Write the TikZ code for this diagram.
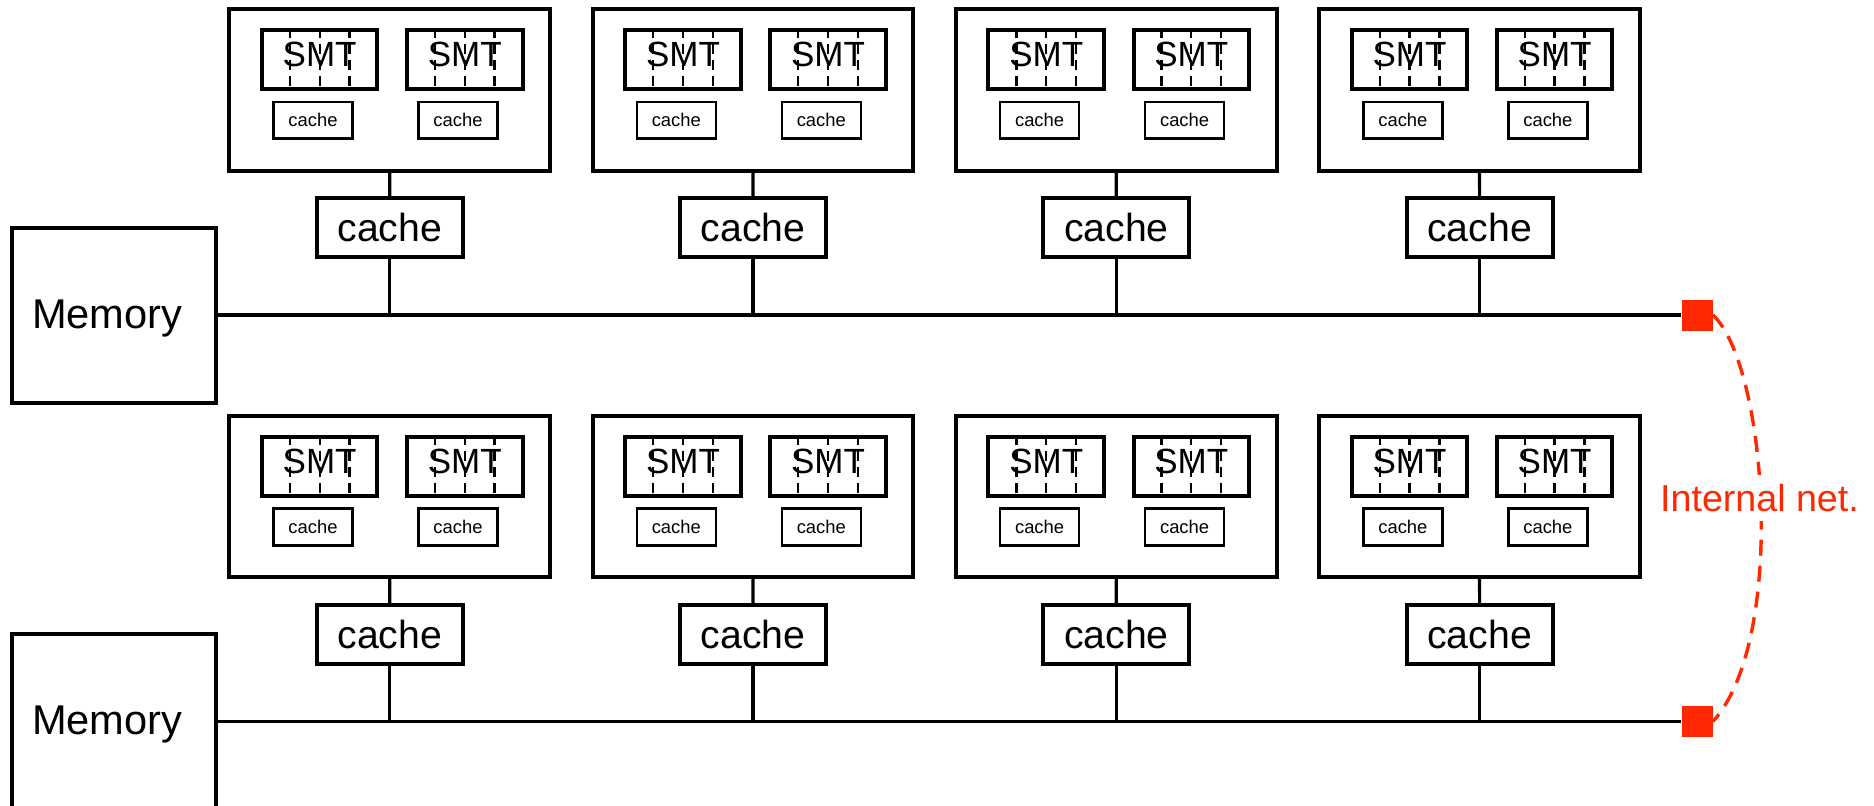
\documentclass[tikz,border=0pt]{standalone}
\usepackage{fontspec}
\setmainfont{Liberation Sans}
\usetikzlibrary{calc}
\definecolor{netred}{RGB}{255,40,0}
\begin{document}
\begin{tikzpicture}[x=0.5pt,y=-0.5pt,
 outerbox/.style={draw, line width=2pt, inner sep=0pt, minimum width=160.35pt, minimum height=80.7pt},
 smtbox/.style={draw, line width=2pt, inner sep=0pt, minimum width=57.8pt, minimum height=29.65pt},
 smalls/.style={draw, line width=1.3pt, inner sep=0pt, minimum width=39.5pt, minimum height=18.35pt, font=\fontsize{9.2}{11}\selectfont},
 bigc/.style={draw, line width=2pt, inner sep=0pt, minimum width=73pt, minimum height=29.5pt, font=\fontsize{19.6}{23}\selectfont},
 membox/.style={draw, line width=2pt, inner sep=0pt, minimum width=101.85pt, minimum height=87.5pt},
 memtext/.style={font=\fontsize{20.8}{25}\selectfont, inner sep=0pt, anchor=base},
 smttext/.style={font=\fontsize{17.5}{21}\selectfont, inner sep=0pt, anchor=base},
 thread/.style={line width=1.15pt, dash pattern=on 5pt off 3pt},
 wire/.style={line width=1.6pt},
 port/.style={fill=netred, inner sep=0pt, minimum size=15.5pt},
 netlink/.style={draw=netred, line width=1.7pt, dash pattern=on 8pt off 5pt},
 netlabel/.style={text=netred, fill=white, inner sep=4.5pt, font=\fontsize{18.8}{22}\selectfont}
]
\useasboundingbox (0,0) rectangle (1874,805);
\clip (0,0) rectangle (1874,805);

\foreach \r/\dy in {1/0, 2/406.5} {
  % memory and bus
  \node[membox] (mem-\r) at (114.2, 315+\dy) {};
  \node[memtext] (memt-\r) at (107.2, 328.3+\dy) {Memory};
  \node[port] (sq-\r) at (1697, 315+\dy) {};
  \draw[wire] (mem-\r.east) -- (sq-\r.west);
  \foreach \c in {1,2,3,4} {
    \pgfmathsetmacro\L{229.3+(\c-1)*363.3}
    \node[outerbox] (cpu-\r-\c) at (\L+160.35, 90+\dy) {};
    \node[smtbox] (smtA-\r-\c) at (\L+90.35, 59.65+\dy) {};
    \node[smtbox] (smtB-\r-\c) at (\L+235.4, 59.65+\dy) {};
    \foreach \s in {smtA,smtB} {
      \foreach \f in {0.25,0.5,0.75} {
        \draw[thread] ($(\s-\r-\c.north west)!\f!(\s-\r-\c.north east)$) -- ($(\s-\r-\c.south west)!\f!(\s-\r-\c.south east)$);
      }
      \node[smttext] (\s t-\r-\c) at ($(\s-\r-\c.center)+(0,7)$) {SMT};
    }
    \node[smalls] (scA-\r-\c) at (\L+83.7, 120.35+\dy) {cache};
    \node[smalls] (scB-\r-\c) at (\L+228.7, 120.35+\dy) {cache};
    \node[bigc] (bc-\r-\c) at (\L+160.4, 227.8+\dy) {cache};
    \coordinate (j-\r-\c) at (\L+160.4, 315+\dy);
    \draw[wire] (cpu-\r-\c.south) -- (bc-\r-\c.north);
    \draw[wire] (bc-\r-\c.south) -- (j-\r-\c);
  }
}

\draw[netlink] (sq-1.east) .. controls (1767,365) and (1787,640) .. (sq-2.east);
\node[netlabel, anchor=base] (netl) at (1759.5, 511.7) {Internal net.};
\end{tikzpicture}
\end{document}
